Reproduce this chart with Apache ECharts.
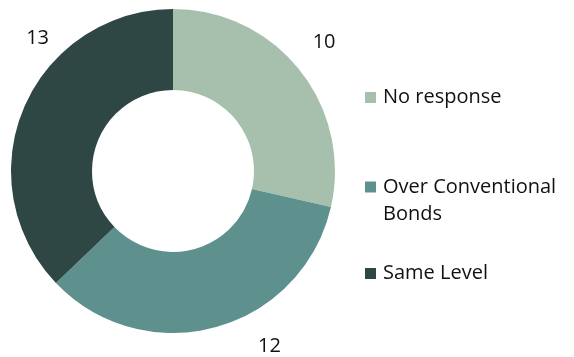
<!DOCTYPE html>
<html>
<head>
<meta charset="utf-8">
<script src="https://cdn.jsdelivr.net/npm/echarts@6/dist/echarts.min.js"></script>
<style>
  html, body { margin: 0; padding: 0; background: #ffffff; }
  #chart { width: 574px; height: 357px; }
</style>
</head>
<body>
<div id="chart"></div>
<script>
// Responses on bond pricing
const categories = ['No response', 'Over Conventional Bonds', 'Same Level'];
const values = [10, 12, 13];
const colors = ['#a7c0ad', '#5e918e', '#2e4644'];
// legend text: the long entry wraps; a leading blank row keeps the swatch beside its first line
const legendLabels = ['No response', ' \nOver Conventional\nBonds', 'Same Level'];
const legendTops = [79, 141.5, 255];
// nudges that move each value label to its spot around the ring
const labelOffsets = [[8, -28], [37, 19], [30, -69]];

const FONT = '"Open Sans", "Liberation Sans", sans-serif';

const chart = echarts.init(document.getElementById('chart'), null, { renderer: 'canvas' });

chart.setOption({
  animation: false,
  legend: categories.map((name, i) => ({
    orient: 'vertical',
    left: 360,
    top: legendTops[i],
    itemWidth: 11,
    itemHeight: 11,
    icon: 'rect',
    selectedMode: false,
    formatter: () => legendLabels[i],
    textStyle: { fontFamily: FONT, fontSize: 20, color: '#111', lineHeight: 27, padding: [0, 0, 0, 2] },
    data: [name]
  })),
  series: [{
    type: 'pie',
    center: [173, 171],
    radius: [81, 162],
    startAngle: 90,
    clockwise: true,
    avoidLabelOverlap: false,
    data: categories.map((name, i) => ({
      name,
      value: values[i],
      itemStyle: { color: colors[i] }
    })),
    label: {
      show: true,
      position: 'outside',
      formatter: '{c}',
      fontFamily: FONT,
      fontSize: 20,
      color: '#111',
      overflow: 'none'
    },
    labelLine: { show: false, length: 0, length2: 0 },
    labelLayout: params => ({
      dx: labelOffsets[params.dataIndex][0],
      dy: labelOffsets[params.dataIndex][1]
    }),
    emphasis: { disabled: true }
  }]
});
</script>
</body>
</html>
